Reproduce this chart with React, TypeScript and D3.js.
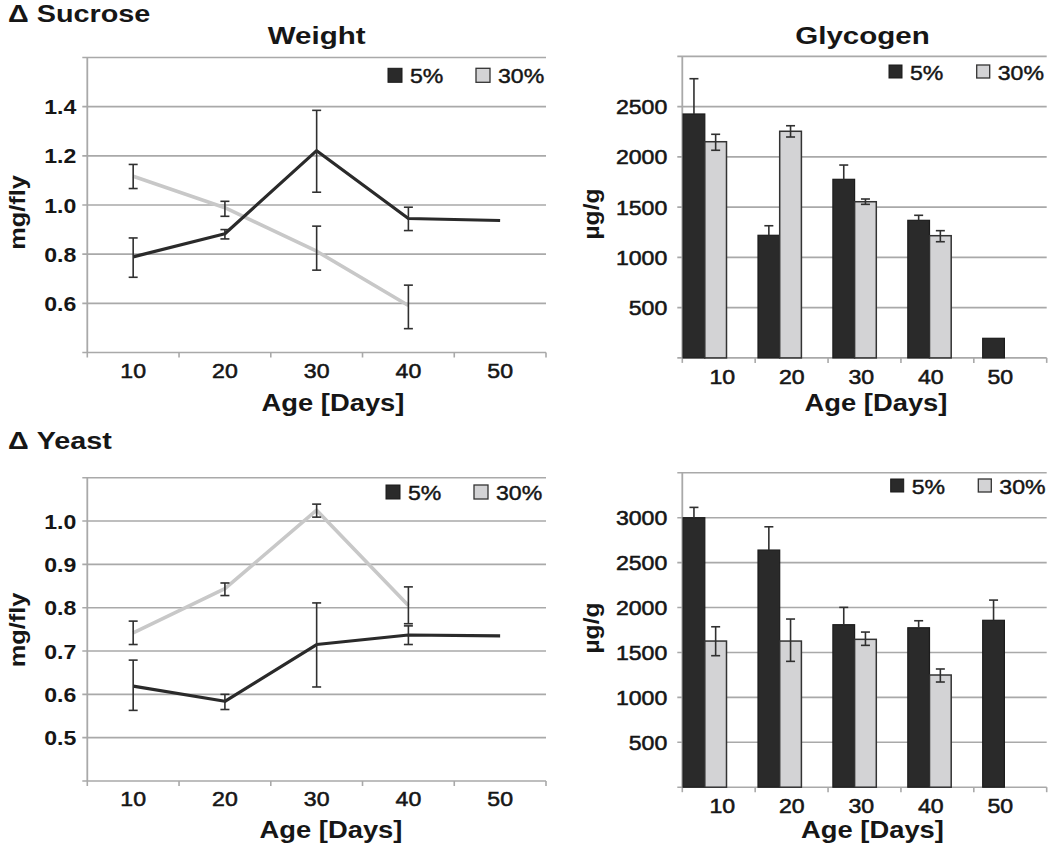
import React from 'react';
import * as d3 from 'd3';

// ---------- data ----------
const ages = ['10', '20', '30', '40', '50'];
const seriesNames = ['5%', '30%'];

// Δ Sucrose – Weight (mg/fly)
const sucW5 = [0.789, 0.883, 1.221, 0.945, 0.937];
const sucW5Lo = [0.706, 0.862, 1.052, 0.896, null];
const sucW5Hi = [0.866, 0.9, 1.385, 0.991, null];
const sucW30 = [1.117, 0.989, 0.812, 0.591, null];
const sucW30Lo = [1.067, 0.954, 0.735, 0.497, null];
const sucW30Hi = [1.165, 1.015, 0.914, 0.674, null];
const sucWTicks = [0.4, 0.6, 0.8, 1.0, 1.2, 1.4, 1.6];

// Δ Sucrose – Glycogen (µg/g)
const sucG5 = [2427, 1220, 1777, 1369, 195];
const sucG5Hi = [2778, 1315, 1919, 1419, null];
const sucG30 = [2151, 2255, 1554, 1216, null];
const sucG30Lo = [2066, 2198, 1528, 1156, null];
const sucG30Hi = [2225, 2310, 1581, 1266, null];
const sucGTicks = [0, 500, 1000, 1500, 2000, 2500, 3000];

// Δ Yeast – Weight (mg/fly)
const yeaW5 = [0.619, 0.584, 0.715, 0.737, 0.735];
const yeaW5Lo = [0.563, 0.565, 0.617, 0.715, null];
const yeaW5Hi = [0.679, 0.6, 0.811, 0.758, null];
const yeaW30 = [0.742, 0.844, 1.025, 0.805, null];
const yeaW30Lo = [0.715, 0.828, 1.009, 0.763, null];
const yeaW30Hi = [0.769, 0.857, 1.039, 0.848, null];
const yeaWTicks = [0.4, 0.5, 0.6, 0.7, 0.8, 0.9, 1.0, 1.1];

// Δ Yeast – Glycogen (µg/g)
const yeaG5 = [3000, 2640, 1809, 1775, 1858];
const yeaG5Hi = [3115, 2899, 2002, 1853, 2083];
const yeaG30 = [1627, 1627, 1646, 1249, null];
const yeaG30Lo = [1464, 1401, 1579, 1171, null];
const yeaG30Hi = [1786, 1872, 1727, 1316, null];
const yeaGTicks = [0, 500, 1000, 1500, 2000, 2500, 3000, 3500];

// ---------- style ----------
const FONT = "'Liberation Sans', Arial, Helvetica, sans-serif";
const INK = '#161616';
const GRID = '#a9a9a9';
const DARK = '#2a2a2a';
const LIGHT_LINE = '#c8c8c8';
const LIGHT_BAR = '#d3d3d5';
const ERR = '#303030';

type TProps = {
  x: number; y: number; size: number; weight?: string | number; anchor?: string;
  sx?: number; rotate?: number; heavy?: number; children: React.ReactNode;
};
function T({ x, y, size, weight = 'normal', anchor = 'start', sx = 1.1, rotate = 0, heavy = 0, children }: TProps) {
  const tr = `translate(${x},${y})${rotate ? ` rotate(${rotate})` : ''} scale(${sx},1)`;
  return (
    <text transform={tr} fontSize={size} fontWeight={weight} textAnchor={anchor as any}
      fill={INK} stroke={heavy ? INK : 'none'} strokeWidth={heavy} fontFamily={FONT}>{children}</text>
  );
}

function ErrBar({ x, y0, y1, capTop = true, capBottom = true }: { x: number; y0: number; y1: number; capTop?: boolean; capBottom?: boolean }) {
  const c = 4.5;
  return (
    <g stroke={ERR} strokeWidth={1.6} fill="none">
      <line x1={x} x2={x} y1={y0} y2={y1} />
      {capTop && <line x1={x - c} x2={x + c} y1={y1} y2={y1} />}
      {capBottom && <line x1={x - c} x2={x + c} y1={y0} y2={y0} />}
    </g>
  );
}

type Legend = { x5: number; x30: number; y: number; size: number; textY: number };

function Frame({ x0, x1, yScale, ticks, tickLabelX, boldTicks, fmt, xTickPos, yBottom }: any) {
  const n = ticks.length;
  return (
    <g>
      {ticks.map((t: number, i: number) => (
        <line key={'g' + i} x1={x0 - 5} x2={x1} y1={yScale(t)} y2={yScale(t)} stroke={GRID} strokeWidth={1.6} />
      ))}
      <line x1={x0} x2={x0} y1={yScale(ticks[n - 1])} y2={yBottom} stroke={GRID} strokeWidth={1.8} />
      {xTickPos.map((p: number, i: number) => (
        <line key={'xt' + i} x1={p} x2={p} y1={yBottom} y2={yBottom + 5} stroke={GRID} strokeWidth={1.6} />
      ))}
      {ticks.slice(1, n - 1).map((t: number, i: number) => (
        <T key={'yl' + i} x={tickLabelX} y={yScale(t) + 7.5} size={21} anchor="end"
          weight={boldTicks ? 'bold' : 'normal'} heavy={boldTicks ? 0 : 0.55}>{fmt(t)}</T>
      ))}
    </g>
  );
}

function LegendBox({ lg }: { lg: Legend }) {
  return (
    <g>
      <rect x={lg.x5} y={lg.y} width={lg.size} height={lg.size} fill={DARK} stroke="#1a1a1a" strokeWidth={1} />
      <T x={lg.x5 + lg.size + 8} y={lg.textY} size={21} heavy={0.45}>{seriesNames[0]}</T>
      <rect x={lg.x30} y={lg.y} width={lg.size} height={lg.size} fill={LIGHT_BAR} stroke="#333" strokeWidth={1.3} />
      <T x={lg.x30 + lg.size + 8} y={lg.textY} size={21} heavy={0.45}>{seriesNames[1]}</T>
    </g>
  );
}

type LineProps = {
  x0: number; x1: number; yTop: number; yBottom: number; ticks: number[];
  s5: (number | null)[]; s5Lo: (number | null)[]; s5Hi: (number | null)[];
  s30: (number | null)[]; s30Lo: (number | null)[]; s30Hi: (number | null)[];
  legend: Legend; ylabelY: number; ageX: number; ageY: number;
};

function LinePanel(p: LineProps) {
  const x = d3.scaleBand<string>().domain(ages).range([p.x0, p.x1]);
  const y = d3.scaleLinear().domain([p.ticks[0], p.ticks[p.ticks.length - 1]]).range([p.yBottom, p.yTop]);
  const cx = (a: string) => (x(a) as number) + x.bandwidth() / 2;
  const line = d3.line<[string, number | null]>()
    .defined((d) => d[1] != null)
    .x((d) => cx(d[0]))
    .y((d) => y(d[1] as number));
  const d5 = ages.map((a, i) => [a, p.s5[i]] as [string, number | null]);
  const d30 = ages.map((a, i) => [a, p.s30[i]] as [string, number | null]);
  const xTickPos = [...ages.map((a) => x(a) as number), p.x1];
  return (
    <g>
      <Frame x0={p.x0} x1={p.x1} yScale={y} ticks={p.ticks} tickLabelX={p.x0 - 11} boldTicks
        fmt={d3.format('.1f')} xTickPos={xTickPos} yBottom={p.yBottom} />
      <path d={line(d30) || ''} fill="none" stroke={LIGHT_LINE} strokeWidth={3.6} strokeLinejoin="round" />
      <path d={line(d5) || ''} fill="none" stroke={DARK} strokeWidth={3.2} strokeLinejoin="round" />
      {ages.map((a, i) => (p.s5Lo[i] != null ? (
        <ErrBar key={'e5' + i} x={cx(a)} y0={y(p.s5Lo[i] as number)} y1={y(p.s5Hi[i] as number)} />
      ) : null))}
      {ages.map((a, i) => (p.s30Lo[i] != null ? (
        <ErrBar key={'e30' + i} x={cx(a)} y0={y(p.s30Lo[i] as number)} y1={y(p.s30Hi[i] as number)} />
      ) : null))}
      {ages.map((a) => (
        <T key={'xl' + a} x={cx(a)} y={p.yBottom + 25} size={21} anchor="middle" heavy={0.55}>{a}</T>
      ))}
      <LegendBox lg={p.legend} />
      <T x={25} y={p.ylabelY} size={22} weight="bold" anchor="middle" rotate={-90} sx={1.15}>mg/fly</T>
      <T x={p.ageX} y={p.ageY} size={24} weight="bold" anchor="middle" sx={1.14}>Age [Days]</T>
    </g>
  );
}

type BarProps = {
  x0: number; x1: number; yTop: number; yBottom: number; ticks: number[];
  s5: (number | null)[]; s5Hi: (number | null)[];
  s30: (number | null)[]; s30Lo: (number | null)[]; s30Hi: (number | null)[];
  legend: Legend; ylabelY: number; ageX: number; ageY: number;
};

function BarPanel(p: BarProps) {
  const tickBand = d3.scaleBand<string>().domain(ages).range([p.x0, p.x1]);
  const groupBand = d3.scaleBand<string>().domain(ages).range([p.x0 + 0.8, p.x0 + 0.8 + 5 * 74.9]);
  const sub = d3.scaleBand<string>().domain(seriesNames).range([0, 43.4]);
  const labelPos = d3.scalePoint<string>().domain(ages).range([p.x0 + 40, p.x0 + 318]);
  const y = d3.scaleLinear().domain([p.ticks[0], p.ticks[p.ticks.length - 1]]).range([p.yBottom, p.yTop]);
  const xTickPos = [...ages.map((a) => tickBand(a) as number), p.x1];
  const bx = (a: string, s: string) => (groupBand(a) as number) + (sub(s) as number);
  const bw = sub.bandwidth();
  return (
    <g>
      <Frame x0={p.x0} x1={p.x1} yScale={y} ticks={p.ticks} tickLabelX={p.x0 - 15} boldTicks={false}
        fmt={d3.format('d')} xTickPos={xTickPos} yBottom={p.yBottom} />
      {ages.map((a, i) => (p.s5[i] != null ? (
        <rect key={'b5' + i} x={bx(a, '5%')} y={y(p.s5[i] as number)} width={bw}
          height={p.yBottom - y(p.s5[i] as number)} fill={DARK} stroke="#1c1c1c" strokeWidth={1.2} />
      ) : null))}
      {ages.map((a, i) => (p.s30[i] != null ? (
        <rect key={'b30' + i} x={bx(a, '30%')} y={y(p.s30[i] as number)} width={bw}
          height={p.yBottom - y(p.s30[i] as number)} fill={LIGHT_BAR} stroke="#333" strokeWidth={1.5} />
      ) : null))}
      {ages.map((a, i) => (p.s5Hi[i] != null ? (
        <ErrBar key={'e5' + i} x={bx(a, '5%') + bw / 2} y0={y(p.s5[i] as number)} y1={y(p.s5Hi[i] as number)} capBottom={false} />
      ) : null))}
      {ages.map((a, i) => (p.s30Lo[i] != null ? (
        <ErrBar key={'e30' + i} x={bx(a, '30%') + bw / 2} y0={y(p.s30Lo[i] as number)} y1={y(p.s30Hi[i] as number)} />
      ) : null))}
      {ages.map((a) => (
        <T key={'xl' + a} x={labelPos(a) as number} y={p.yBottom + 26} size={21} anchor="middle" heavy={0.55}>{a}</T>
      ))}
      <LegendBox lg={p.legend} />
      <T x={599} y={p.ylabelY} size={22} weight="bold" anchor="middle" rotate={-90} sx={1.12}>µg/g</T>
      <T x={p.ageX} y={p.ageY} size={24} weight="bold" anchor="middle" sx={1.14}>Age [Days]</T>
    </g>
  );
}

export default function App() {
  return (
    <svg width={1050} height={846} viewBox="0 0 1050 846"
      style={{ position: 'absolute', left: 0, top: 0, background: '#fff' }}>
      <rect x={0} y={0} width={1050} height={846} fill="#fff" />
      <T x={8} y={22} size={24} weight="bold" sx={1.2}>Δ Sucrose</T>
      <T x={8} y={449} size={24} weight="bold" sx={1.2}>Δ Yeast</T>
      <T x={316.7} y={44} size={24} weight="bold" anchor="middle" sx={1.23}>Weight</T>
      <T x={862.5} y={44} size={24} weight="bold" anchor="middle" sx={1.23}>Glycogen</T>

      <LinePanel x0={87.3} x1={546} yTop={57.5} yBottom={352.5} ticks={sucWTicks}
        s5={sucW5} s5Lo={sucW5Lo} s5Hi={sucW5Hi} s30={sucW30} s30Lo={sucW30Lo} s30Hi={sucW30Hi}
        legend={{ x5: 388, x30: 476, y: 68.3, size: 14, textY: 83.3 }} ylabelY={212.5} ageX={333} ageY={411} />

      <BarPanel x0={682.3} x1={1046.7} yTop={56.4} yBottom={357.9} ticks={sucGTicks}
        s5={sucG5} s5Hi={sucG5Hi} s30={sucG30} s30Lo={sucG30Lo} s30Hi={sucG30Hi}
        legend={{ x5: 889, x30: 976.7, y: 65, size: 13, textY: 80 }} ylabelY={214} ageX={876} ageY={411} />

      <LinePanel x0={87.3} x1={546} yTop={477.7} yBottom={781} ticks={yeaWTicks}
        s5={yeaW5} s5Lo={yeaW5Lo} s5Hi={yeaW5Hi} s30={yeaW30} s30Lo={yeaW30Lo} s30Hi={yeaW30Hi}
        legend={{ x5: 386, x30: 474, y: 485, size: 14, textY: 500 }} ylabelY={630} ageX={331} ageY={838} />

      <BarPanel x0={682.3} x1={1046.7} yTop={472.8} yBottom={787.2} ticks={yeaGTicks}
        s5={yeaG5} s5Hi={yeaG5Hi} s30={yeaG30} s30Lo={yeaG30Lo} s30Hi={yeaG30Hi}
        legend={{ x5: 890.7, x30: 978.3, y: 479, size: 13, textY: 494 }} ylabelY={628} ageX={872.5} ageY={838} />
    </svg>
  );
}
